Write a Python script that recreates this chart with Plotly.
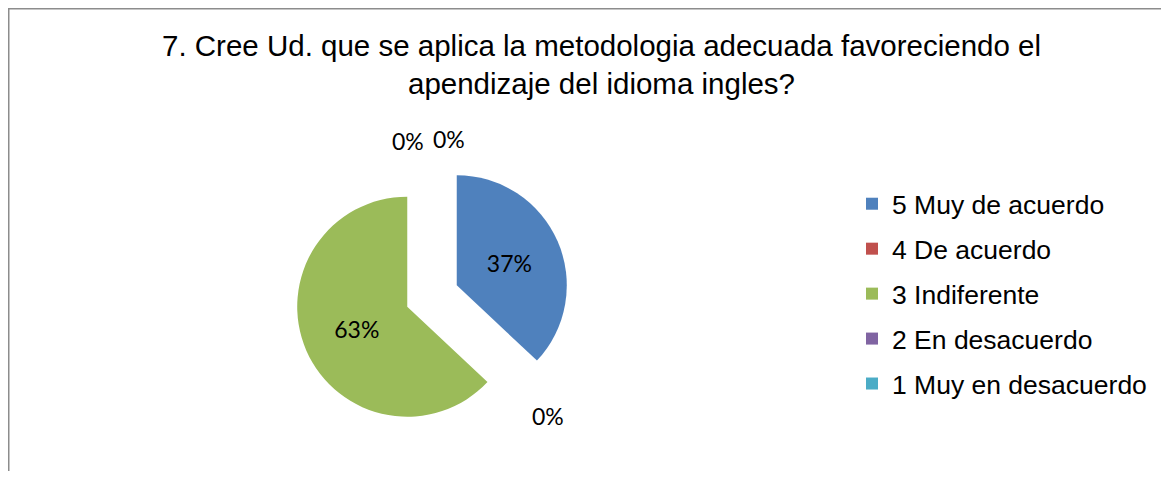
import plotly.graph_objects as go

labels = ["5 Muy de acuerdo", "4 De acuerdo", "3 Indiferente", "2 En desacuerdo", "1 Muy en desacuerdo"]
values = [37, 0, 63, 0, 0]
colors = ["#4F81BD", "#C0504D", "#9BBB59", "#8064A2", "#4BACC6"]
pulls = [0.245, 0, 0.245, 0, 0]
title_text = "7. Cree Ud. que se aplica la metodologia adecuada favoreciendo el<br>apendizaje del idioma ingles?"

# page body has an 8px margin; figure sized to fit the 1169x479 window
OFF = 8
W, H = 1169 - 2 * OFF, 479 - 2 * OFF


def px_x(x):
    return (x - OFF) / W


def px_y(y):
    return 1 - (y - OFF) / H


total = sum(values)
pct_text = [f"{round(v / total * 100)}%" for v in values]

# outside label positions for the zero-value slices (screen pixels)
zero_label_pos = {1: (548, 416), 3: (408, 141), 4: (449, 139)}

cx, cy, half = 432, 296, 137
fig = go.Figure()
fig.add_trace(go.Pie(
    labels=labels, values=values, sort=False, direction="clockwise", rotation=0,
    marker=dict(colors=colors), pull=pulls,
    text=pct_text, textinfo="text",
    textposition=["inside" if v > 0 else "none" for v in values],
    insidetextorientation="horizontal",
    textfont=dict(family="Lato", size=23, color="black"),
    domain=dict(x=[px_x(cx - half), px_x(cx + half)], y=[px_y(cy + half), px_y(cy - half)]),
    showlegend=False, hoverinfo="label+percent",
))
for lab, col in zip(labels, colors):
    fig.add_trace(go.Scatter(
        x=[None], y=[None], mode="markers", name=lab, legendgroup=lab,
        marker=dict(symbol="square", size=12, color=col, line=dict(width=0)),
        showlegend=True,
    ))

annotations = []
for i, (px, py) in zero_label_pos.items():
    annotations.append(dict(
        text=pct_text[i], x=px_x(px), y=px_y(py), xref="paper", yref="paper",
        xanchor="center", yanchor="middle", showarrow=False,
        font=dict(family="Lato", size=23, color="black"),
    ))

fig.update_layout(
    width=W, height=H, margin=dict(l=0, r=0, t=0, b=0),
    paper_bgcolor="white", plot_bgcolor="white",
    title=dict(text=title_text, x=px_x(601.5), xanchor="center", xref="paper",
               y=1 - 48 / H, yanchor="top", yref="container",
               font=dict(family="Liberation Sans, Arial", size=29.5, color="black")),
    legend=dict(x=px_x(852), xanchor="left", y=px_y(180), yanchor="top",
                font=dict(family="Liberation Sans, Arial", size=26.5, color="black"),
                tracegroupgap=7.5, bgcolor="rgba(0,0,0,0)"),
    xaxis=dict(visible=False), yaxis=dict(visible=False),
    annotations=annotations,
    shapes=[dict(type="rect", xref="paper", yref="paper", x0=0.75 / W, x1=1.05,
                 y0=-0.05, y1=1 - 0.75 / H, line=dict(color="#8c8c8c", width=1.5))],
)

fig.write_html("out.html")
